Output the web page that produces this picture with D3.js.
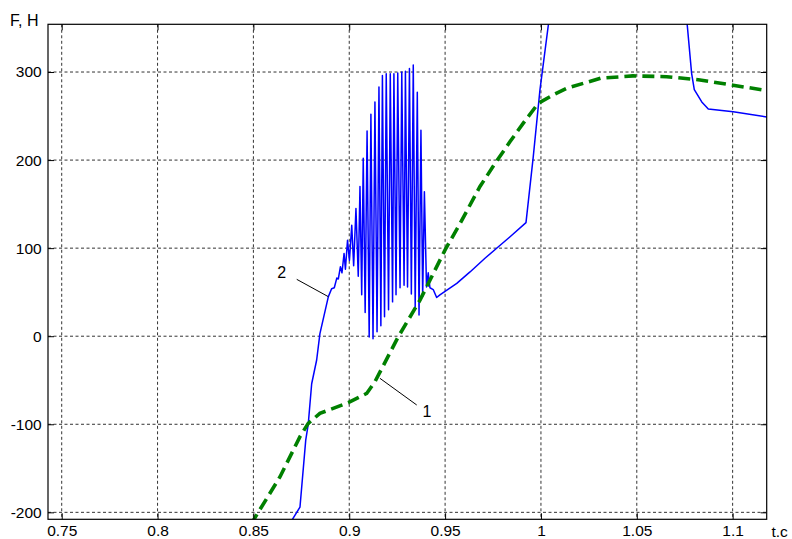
<!DOCTYPE html>
<html>
<head>
<meta charset="utf-8">
<script src="https://cdn.jsdelivr.net/npm/d3@7"></script>
<style>
  body { margin: 0; background: #fff; }
  svg { display: block; }
  text { font-family: "Liberation Sans", Arial, sans-serif; }
</style>
</head>
<body>
<div id="chart"></div>
<script>
// Curve 1 (green dashed)
var curve1T = [0.8486, 0.8639, 0.8743, 0.8786, 0.8847, 0.8995, 0.9091, 0.9134, 0.9256, 0.9369,
  0.9500, 0.9578, 0.9682, 0.9760, 0.9839, 0.9908, 0.9986, 1.0064, 1.0134, 1.0311,
  1.0480, 1.0656, 1.0830, 1.1002, 1.1178];
var curve1F = [-214, -159.5, -114, -99, -87.6, -75.5, -65, -51.7, -0.5, 41,
  98, 128, 170, 196, 221, 242, 264.5, 274, 281.5, 293,
  295.6, 294.7, 291, 285, 279];

// Curve 2 (blue, with the oscillations)
var curve2T = [0.8681, 0.8743, 0.8773, 0.8786, 0.8804, 0.8830, 0.8847, 0.8891, 0.8908,
  0.8922, 0.8935, 0.8943, 0.8954, 0.8962, 0.8973, 0.8980, 0.8991, 0.9001, 0.9013,
  0.9023, 0.9035, 0.9047, 0.9056, 0.9065, 0.9073, 0.9083, 0.9093, 0.9104, 0.9113,
  0.9124, 0.9134, 0.9145, 0.9155, 0.9165, 0.9173, 0.9184, 0.9193, 0.9205, 0.9214,
  0.9226, 0.9233, 0.9244, 0.9253, 0.9265, 0.9274, 0.9286, 0.9293, 0.9304, 0.9314,
  0.9324, 0.9334, 0.9344, 0.9355, 0.9364, 0.9374, 0.9383, 0.9392, 0.9403, 0.9412,
  0.9421, 0.9438, 0.9456, 0.9473, 0.9561, 0.9630, 0.9708, 0.9778, 0.9839, 0.9922,
  0.9960, 0.9995, 1.0096, 1.0723, 1.0786, 1.0800, 1.0839, 1.0873, 1.1003, 1.1178];
var curve2F = [-216, -194, -118, -100, -54, -27, 3, 45, 54,
  55, 66, 65, 79, 72, 94, 76, 109, 86, 126,
  80, 145, 68, 170, 47, 202, 27, 233, -1, 252,
  -3, 266, 5, 283, 12, 296, 22, 298, 30, 298,
  39, 298, 47, 299, 55, 300, 58, 301, 56, 304,
  48, 308, 33, 277, 24, 234, 45, 164, 56, 72,
  55, 53, 44, 47, 60, 73, 88.5, 101.6, 113, 129,
  204, 280, 450, 450, 298.5, 280, 266, 258, 255, 249];

// Axis ticks
var xTicks = [0.75, 0.8, 0.85, 0.9, 0.95, 1, 1.05, 1.1];
var xTickLabels = ["0.75", "0.8", "0.85", "0.9", "0.95", "1", "1.05", "1.1"];
var yTicks = [-200, -100, 0, 100, 200, 300];
var yTickLabels = ["-200", "-100", "0", "100", "200", "300"];

// Curve labels: text position and leader line
var labelNames = ["1", "2"];
var labelTextT = [0.9406, 0.8648];
var labelTextF = [-85.7, 73.2];
var leaderT1 = [0.9160, 0.8726];
var leaderF1 = [-47.8, 64.6];
var leaderT2 = [0.9352, 0.8891];
var leaderF2 = [-78.1, 44.9];

var totalWidth = 792, totalHeight = 539;
var margin = { top: 24.3, left: 48 };
var width = 718.7, height = 495;

var svg = d3.select("#chart").append("svg")
  .attr("width", totalWidth)
  .attr("height", totalHeight);

svg.append("rect").attr("width", totalWidth).attr("height", totalHeight).attr("fill", "#fff");

var g = svg.append("g")
  .attr("transform", "translate(" + margin.left + "," + margin.top + ")");

var x = d3.scaleLinear().domain([0.74285, 1.11777]).range([0, width]);
var y = d3.scaleLinear().domain([-207.9, 354.2]).range([height, 0]);

// Grid lines
g.selectAll(".vgrid")
  .data(xTicks)
  .enter().append("line")
  .attr("x1", function(d) { return x(d); })
  .attr("x2", function(d) { return x(d); })
  .attr("y1", 0)
  .attr("y2", height)
  .attr("stroke", "#333")
  .attr("stroke-width", 1)
  .attr("stroke-dasharray", "3,2.5");

g.selectAll(".hgrid")
  .data(yTicks)
  .enter().append("line")
  .attr("x1", 0)
  .attr("x2", width)
  .attr("y1", function(d) { return y(d); })
  .attr("y2", function(d) { return y(d); })
  .attr("stroke", "#333")
  .attr("stroke-width", 1)
  .attr("stroke-dasharray", "3,2.5");

// Clip to the plot box
g.append("clipPath").attr("id", "plotclip")
  .append("rect").attr("width", width).attr("height", height);

var plot = g.append("g").attr("clip-path", "url(#plotclip)");

var line = d3.line()
  .x(function(d) { return x(d[0]); })
  .y(function(d) { return y(d[1]); });

var curve2 = curve2T.map(function(t, i) { return [t, curve2F[i]]; });
var curve1 = curve1T.map(function(t, i) { return [t, curve1F[i]]; });

plot.append("path")
  .datum(curve2)
  .attr("d", line)
  .attr("fill", "none")
  .attr("stroke", "#0000ff")
  .attr("stroke-width", 1.5)
  .attr("stroke-linejoin", "round");

plot.append("path")
  .datum(curve1)
  .attr("d", line)
  .attr("fill", "none")
  .attr("stroke", "#008000")
  .attr("stroke-width", 3.6)
  .attr("stroke-dasharray", "12,6");

// Leader lines and curve numbers
labelNames.forEach(function(name, i) {
  g.append("line")
    .attr("x1", x(leaderT1[i])).attr("y1", y(leaderF1[i]))
    .attr("x2", x(leaderT2[i])).attr("y2", y(leaderF2[i]))
    .attr("stroke", "#000")
    .attr("stroke-width", 1);
  g.append("text")
    .attr("x", x(labelTextT[i]))
    .attr("y", y(labelTextF[i]))
    .attr("dy", "0.36em")
    .attr("text-anchor", "middle")
    .style("font-size", "16px")
    .text(name);
});

// Axes with inward ticks
var bottomAxis = g.append("g")
  .attr("transform", "translate(0," + height + ")")
  .call(d3.axisBottom(x).tickValues(xTicks).tickSize(-6).tickPadding(6)
    .tickFormat(function(d, i) { return xTickLabels[i]; }));

var leftAxis = g.append("g")
  .call(d3.axisLeft(y).tickValues(yTicks).tickSize(-6).tickPadding(6.3)
    .tickFormat(function(d, i) { return yTickLabels[i]; }));

var topAxis = g.append("g")
  .call(d3.axisTop(x).tickValues(xTicks).tickSize(-6).tickFormat(""));

var rightAxis = g.append("g")
  .attr("transform", "translate(" + width + ",0)")
  .call(d3.axisRight(y).tickValues(yTicks).tickSize(-6).tickFormat(""));

[bottomAxis, leftAxis, topAxis, rightAxis].forEach(function(a) {
  a.select(".domain").remove();
  a.selectAll(".tick line").attr("stroke", "#000");
  a.selectAll("text")
    .attr("fill", "#000")
    .style("font-size", "15.5px")
    .style("font-family", "'Liberation Sans', Arial, sans-serif");
});

// Box
g.append("rect")
  .attr("width", width)
  .attr("height", height)
  .attr("fill", "none")
  .attr("stroke", "#000")
  .attr("stroke-width", 1.2);

// Axis titles
svg.append("text")
  .attr("x", 10)
  .attr("y", 26)
  .style("font-size", "16px")
  .text("F, H");

svg.append("text")
  .attr("x", 771.5)
  .attr("y", 536.5)
  .style("font-size", "15.5px")
  .text("t.c");
</script>
</body>
</html>
